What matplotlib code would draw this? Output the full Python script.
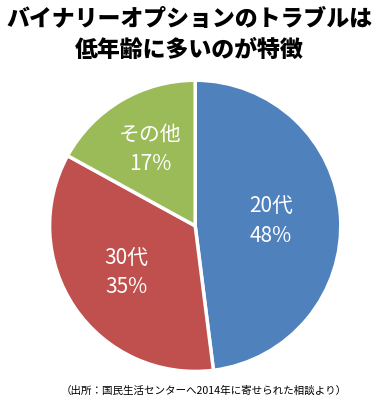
import numpy as np
import matplotlib
matplotlib.use("Agg")
import matplotlib.pyplot as plt

plt.rcParams['font.family'] = ['Noto Sans CJK JP', 'DejaVu Sans']

categories = ["20代", "30代", "その他"]
shares = [48, 35, 17]
colors = ["#4F81BD", "#C0504D", "#9BBB59"]
title_lines = ["バイナリーオプションのトラブルは", "低年齢に多いのが特徴"]
source = "（出所：国民生活センターへ2014年に寄せられた相談より）"

fig = plt.figure(figsize=(3.79, 4.04), dpi=100)
ax = fig.add_axes([0.127, 0.077, 0.776, 0.728])

wedges, _ = ax.pie(shares, colors=colors, startangle=90, counterclock=False,
                   wedgeprops=dict(edgecolor="white", linewidth=2.5))
ax.set_aspect("equal")
ax.set_xlim(-1.01, 1.01)
ax.set_ylim(-1.01, 1.01)

label_r = [0.52, 0.57, 0.61]
for w, cat, val, r in zip(wedges, categories, shares, label_r):
    ang = np.deg2rad((w.theta1 + w.theta2) / 2)
    ax.text(r * np.cos(ang), r * np.sin(ang), f"{cat}\n{val}%",
            ha="center", va="center", color="white", fontsize=15,
            linespacing=1.45)

fig.text(0.5, 1 - 19 / 404, title_lines[0], ha="center", va="center",
         fontsize=16.5, fontweight="heavy")
fig.text(0.5, 1 - 50 / 404, title_lines[1], ha="center", va="center",
         fontsize=16.5, fontweight="heavy")
fig.text(204 / 379, 1 - 391 / 404, source, ha="center", va="center",
         fontsize=7.6)

fig.savefig("out.png", dpi=100, facecolor="white")
